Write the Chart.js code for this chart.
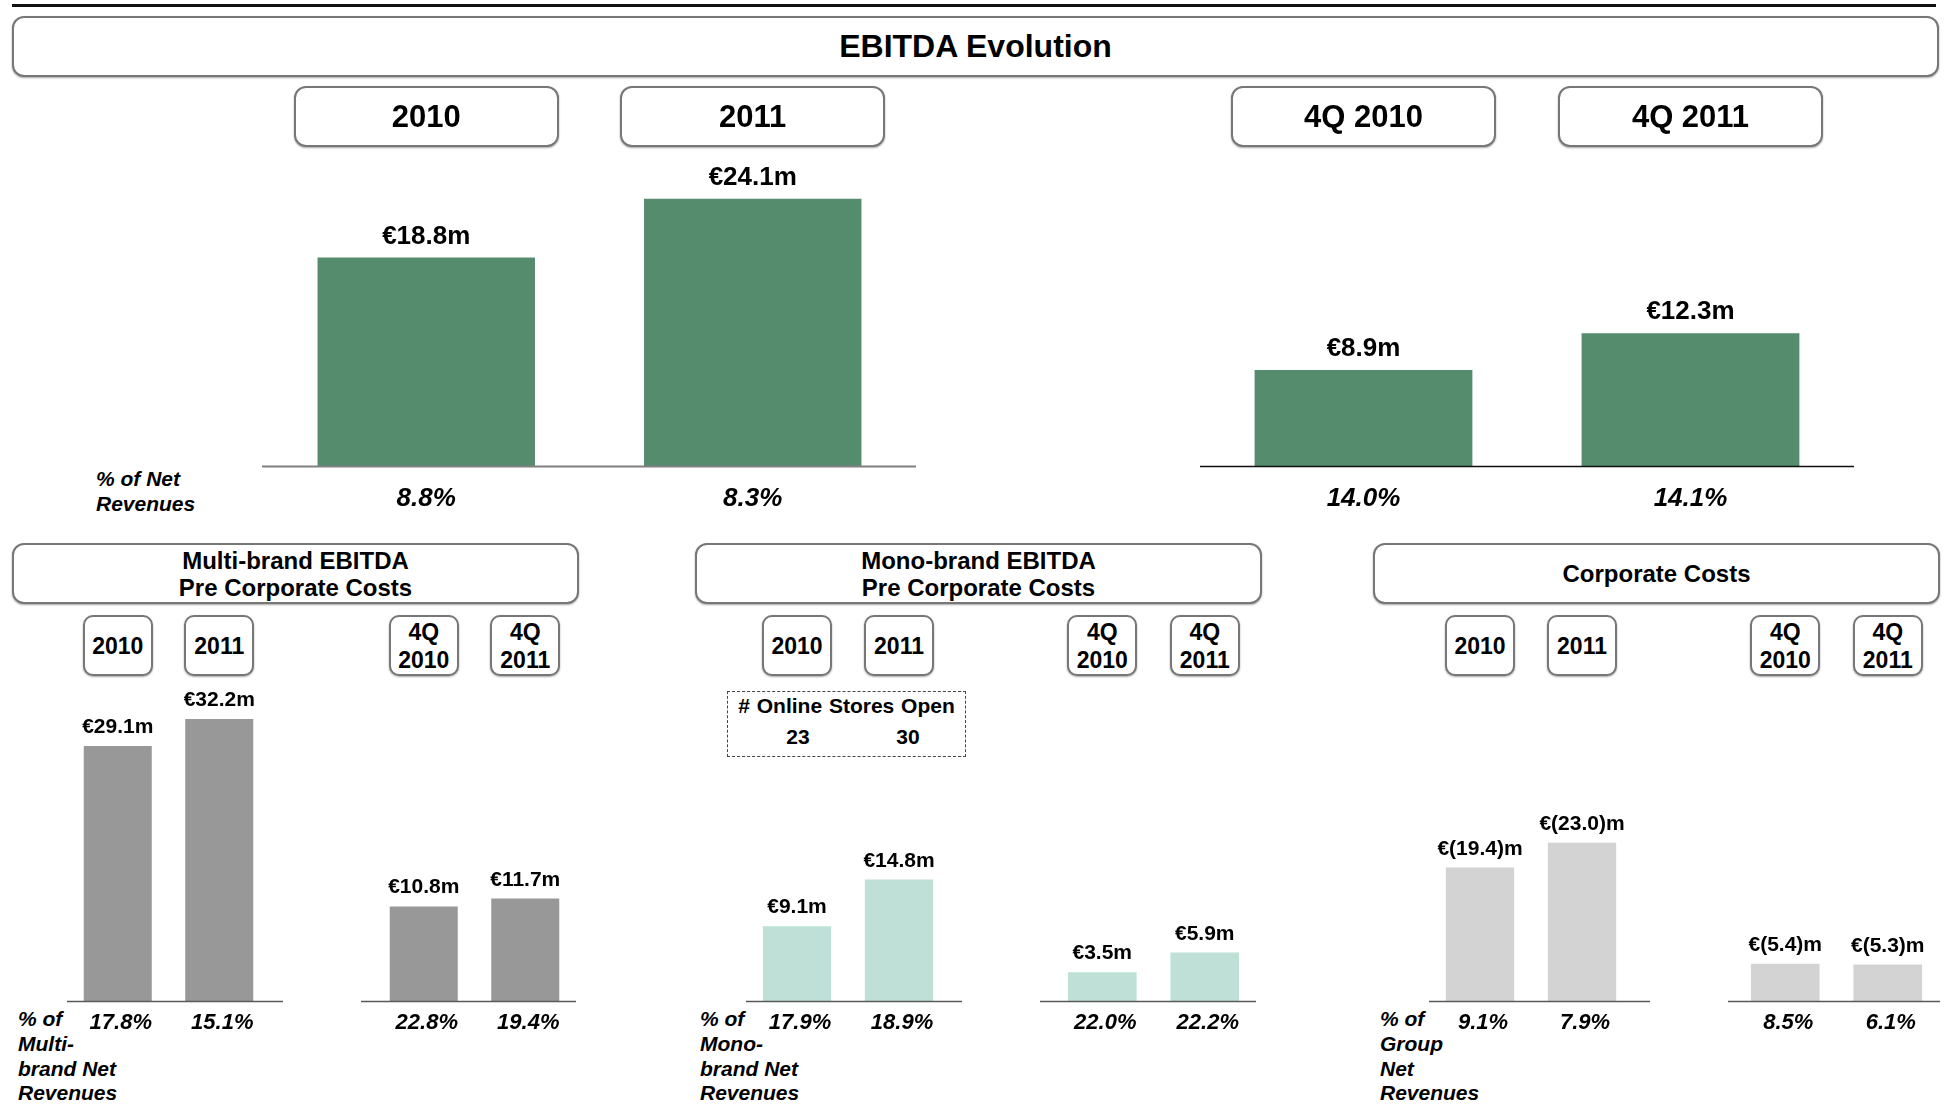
<!DOCTYPE html>
<html>
<head>
<meta charset="utf-8">
<title>EBITDA Evolution</title>
<script src="https://cdn.jsdelivr.net/npm/chart.js@4.4.1/dist/chart.umd.min.js"></script>
<style>
  body {
    margin: 0;
    width: 1949px;
    height: 1104px;
    overflow: hidden;
    position: relative;
    background: #fff;
    color: #000;
    font-family: 'Liberation Sans', Arial, sans-serif;
  }
  .topRule { position: absolute; left: 12px; top: 4px; width: 1924px; height: 3px; background: #111; }
  .box {
    position: absolute;
    box-sizing: border-box;
    border: 2px solid #777;
    border-radius: 12px;
    background: #fff;
    box-shadow: 0 1px 2px rgba(0, 0, 0, 0.35);
    display: flex;
    align-items: center;
    justify-content: center;
    text-align: center;
    font-weight: bold;
  }
  .title { left: 12px; top: 16px; width: 1927px; height: 61px; font-size: 32px; }
  .panelHead { top: 543px; width: 567px; height: 61px; font-size: 24px; line-height: 27px; }
  .yearBig { top: 86px; width: 265px; height: 61px; font-size: 31px; }
  .yearSmall { top: 615px; width: 70px; height: 61px; font-size: 23px; line-height: 28px; border-radius: 10px; }
  .chartWrap { position: absolute; }
  .rowLabel { position: absolute; font-style: italic; font-weight: bold; font-size: 21px; }
  .stores {
    position: absolute; left: 727px; top: 691px; width: 239px; height: 66px;
    box-sizing: border-box; border: 1.5px dashed #444; font-weight: bold; font-size: 21px;
  }
  .stores .head { position: absolute; left: 0; width: 100%; top: 2px; text-align: center; word-spacing: 1px; }
  .stores .num { position: absolute; top: 33px; width: 60px; margin-left: -30px; text-align: center; }
</style>
</head>
<body>
<div class="topRule"></div>
<div class="box title">EBITDA Evolution</div>
<div class="box panelHead" style="left:12px">Multi-brand EBITDA<br>Pre Corporate Costs</div>
<div class="box panelHead" style="left:695px">Mono-brand EBITDA<br>Pre Corporate Costs</div>
<div class="box panelHead" style="left:1373px">Corporate Costs</div>

<div class="rowLabel" style="left:96px;top:466px;line-height:25px">% of Net<br>Revenues</div>
<div class="rowLabel" style="left:18px;top:1007px;line-height:24.8px">% of<br>Multi-<br>brand Net<br>Revenues</div>
<div class="rowLabel" style="left:700px;top:1007px;line-height:24.8px">% of<br>Mono-<br>brand Net<br>Revenues</div>
<div class="rowLabel" style="left:1380px;top:1007px;line-height:24.8px">% of<br>Group<br>Net<br>Revenues</div>

<div class="stores" id="stores"><div class="head"># Online Stores Open</div></div>

<script>
// categories
const yearCats = ['2010', '2011'];
const quarterCats = ['4Q 2010', '4Q 2011'];

// group EBITDA (€m) and % of net revenues
const groupEbitdaYear = [18.8, 24.1];
const groupEbitdaQuarter = [8.9, 12.3];
const groupMarginYear = [8.8, 8.3];
const groupMarginQuarter = [14.0, 14.1];

// multi-brand EBITDA pre corporate costs
const multiEbitdaYear = [29.1, 32.2];
const multiEbitdaQuarter = [10.8, 11.7];
const multiMarginYear = [17.8, 15.1];
const multiMarginQuarter = [22.8, 19.4];

// mono-brand EBITDA pre corporate costs
const monoEbitdaYear = [9.1, 14.8];
const monoEbitdaQuarter = [3.5, 5.9];
const monoMarginYear = [17.9, 18.9];
const monoMarginQuarter = [22.0, 22.2];

// corporate costs (shown as bars, labelled in brackets)
const corpCostsYear = [19.4, 23.0];
const corpCostsQuarter = [5.4, 5.3];
const corpMarginYear = [9.1, 7.9];
const corpMarginQuarter = [8.5, 6.1];

const onlineStoresOpen = [23, 30];

const FONT = "'Liberation Sans', Arial, sans-serif";
Chart.defaults.font.family = FONT;
const PAD = 20;

const fmtMoney = v => '€' + v.toFixed(1) + 'm';
const fmtCost = v => '€(' + v.toFixed(1) + ')m';
const fmtPct = v => v.toFixed(1) + '%';

const valueLabels = {
    id: 'valueLabels',
    afterDatasetsDraw(chart, args, opts) {
        const ctx = chart.ctx;
        const ds = chart.data.datasets[0];
        ctx.save();
        ctx.font = opts.font;
        ctx.fillStyle = '#000';
        ctx.textAlign = 'center';
        ctx.textBaseline = 'alphabetic';
        chart.getDatasetMeta(0).data.forEach((bar, i) => {
            ctx.fillText(ds.fmt(ds.data[i]), bar.x, bar.y - opts.gap);
        });
        ctx.restore();
    }
};

// axis line under the bars, a bit wider than the plot area like in the slide
const baseLine = {
    id: 'baseLine',
    afterDatasetsDraw(chart, args, opts) {
        const ctx = chart.ctx;
        const y = Math.round(chart.scales.y.getPixelForValue(0)) + 0.5;
        ctx.save();
        ctx.strokeStyle = opts.color;
        ctx.lineWidth = opts.width;
        ctx.beginPath();
        ctx.moveTo(opts.from, y);
        ctx.lineTo(opts.to, y);
        ctx.stroke();
        ctx.restore();
    }
};

function addChart(cfg) {
    const left = cfg.areaLeft - PAD;
    const top = cfg.baseline - cfg.areaH;
    const w = cfg.areaWidth + 2 * PAD;
    const h = cfg.areaH + cfg.axisH;
    const wrap = document.createElement('div');
    wrap.className = 'chartWrap';
    wrap.style.cssText = `left:${left}px;top:${top}px;width:${w}px;height:${h}px`;
    const canvas = document.createElement('canvas');
    canvas.width = w;
    canvas.height = h;
    wrap.appendChild(canvas);
    document.body.appendChild(wrap);

    const chart = new Chart(canvas, {
        type: 'bar',
        data: {
            labels: cfg.cats,
            datasets: [{
                data: cfg.values,
                backgroundColor: cfg.color,
                barPercentage: cfg.barPct,
                categoryPercentage: 1,
                fmt: cfg.fmt
            }]
        },
        options: {
            responsive: false,
            animation: false,
            layout: { padding: { left: PAD, right: PAD, top: 0, bottom: 0 } },
            plugins: {
                legend: { display: false },
                tooltip: { enabled: false },
                valueLabels: { font: cfg.labelFont, gap: cfg.gap },
                baseLine: { color: cfg.lineColor, width: cfg.lineWidth, from: cfg.lineL - left, to: cfg.lineR - left }
            },
            scales: {
                x: {
                    grid: { display: false, drawTicks: false },
                    border: { display: false },
                    ticks: {
                        autoSkip: false,
                        maxRotation: 0,
                        color: '#000',
                        padding: cfg.tickPad,
                        font: { size: cfg.tickSize, weight: 'bold', style: 'italic' },
                        // leading space nudges the italic figures right as in the slide
                        callback: (v, i) => cfg.tickLead + fmtPct(cfg.margins[i])
                    },
                    afterFit: s => { s.height = cfg.axisH; }
                },
                y: { display: false, min: 0, max: cfg.yMax }
            }
        },
        plugins: [valueLabels, baseLine]
    });
    return { chart, left, top };
}

function addYearBoxes(c, cats, cls, width, twoLines) {
    cats.forEach((cat, i) => {
        const x = c.left + c.chart.scales.x.getPixelForValue(i);
        const d = document.createElement('div');
        d.className = 'box ' + cls;
        d.innerHTML = twoLines ? cat.replace(' ', '<br>') : cat;
        d.style.left = (x - width / 2) + 'px';
        document.body.appendChild(d);
    });
}

const GREEN = '#568C6E';
const MULTI = '#989898';
const MONO = '#BEE0D6';
const CORP = '#D3D3D3';

const topCommon = { baseline: 466, areaH: 326, axisH: 60, tickPad: 17, tickSize: 26, tickLead: '',
    labelFont: `bold 26px ${FONT}`, gap: 14, barPct: 0.666, fmt: fmtMoney };
const botCommon = { baseline: 1001, areaH: 311, axisH: 40, tickPad: 9, tickSize: 22, tickLead: ' ',
    labelFont: `bold 21px ${FONT}`, gap: 13, barPct: 0.67, lineColor: '#5a5a5a', lineWidth: 1.5 };

const groupYear = addChart({ ...topCommon, areaLeft: 263, areaWidth: 653, lineL: 262, lineR: 916,
    lineColor: '#808080', lineWidth: 2, cats: yearCats, values: groupEbitdaYear,
    margins: groupMarginYear, color: GREEN, yMax: 29.4 });
const groupQuarter = addChart({ ...topCommon, areaLeft: 1200, areaWidth: 654, lineL: 1200, lineR: 1854,
    lineColor: '#111', lineWidth: 1.5, cats: quarterCats, values: groupEbitdaQuarter,
    margins: groupMarginQuarter, color: GREEN, yMax: 30.2 });

const multiYear = addChart({ ...botCommon, areaLeft: 67, areaWidth: 203, lineL: 67, lineR: 283,
    cats: yearCats, values: multiEbitdaYear, margins: multiMarginYear, color: MULTI, yMax: 35.5, fmt: fmtMoney });
const multiQuarter = addChart({ ...botCommon, areaLeft: 373, areaWidth: 203, lineL: 361, lineR: 576,
    cats: quarterCats, values: multiEbitdaQuarter, margins: multiMarginQuarter, color: MULTI, yMax: 35.5, fmt: fmtMoney });

const monoYear = addChart({ ...botCommon, areaLeft: 746, areaWidth: 204, lineL: 746, lineR: 962,
    cats: yearCats, values: monoEbitdaYear, margins: monoMarginYear, color: MONO, yMax: 37.9, fmt: fmtMoney });
const monoQuarter = addChart({ ...botCommon, areaLeft: 1051, areaWidth: 205, lineL: 1040, lineR: 1256,
    cats: quarterCats, values: monoEbitdaQuarter, margins: monoMarginQuarter, color: MONO, yMax: 37.9, fmt: fmtMoney });

const corpYear = addChart({ ...botCommon, areaLeft: 1429, areaWidth: 204, lineL: 1429, lineR: 1650,
    cats: yearCats, values: corpCostsYear, margins: corpMarginYear, color: CORP, yMax: 45.2, fmt: fmtCost });
const corpQuarter = addChart({ ...botCommon, areaLeft: 1734, areaWidth: 205, lineL: 1728, lineR: 1940,
    cats: quarterCats, values: corpCostsQuarter, margins: corpMarginQuarter, color: CORP, yMax: 45.2, fmt: fmtCost });

addYearBoxes(groupYear, yearCats, 'yearBig', 265, false);
addYearBoxes(groupQuarter, quarterCats, 'yearBig', 265, false);
[multiYear, monoYear, corpYear].forEach(c => addYearBoxes(c, yearCats, 'yearSmall', 70, false));
[multiQuarter, monoQuarter, corpQuarter].forEach(c => addYearBoxes(c, quarterCats, 'yearSmall', 70, true));

// online stores counts sit under the 2010 / 2011 columns
const stores = document.getElementById('stores');
const storeX = [70, 180];
onlineStoresOpen.forEach((n, i) => {
    const d = document.createElement('div');
    d.className = 'num';
    d.style.left = storeX[i] + 'px';
    d.textContent = n;
    stores.appendChild(d);
});
</script>
</body>
</html>
